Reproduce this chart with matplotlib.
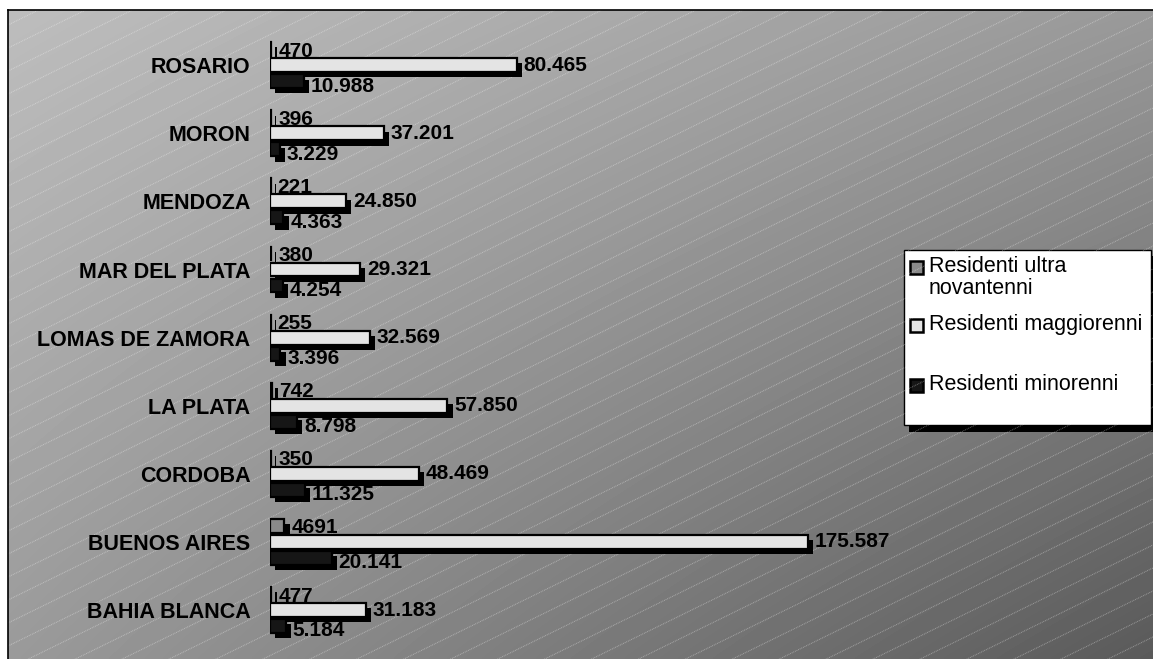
import matplotlib
matplotlib.use("Agg")
import matplotlib.pyplot as plt
import matplotlib.patheffects as pe
from matplotlib.patches import Rectangle
import numpy as np

plt.rcParams["font.family"] = ["Liberation Sans", "DejaVu Sans"]

# bottom to top, as drawn on the category axis
cities = [
    "BAHIA BLANCA", "BUENOS AIRES", "CORDOBA", "LA PLATA", "LOMAS DE ZAMORA",
    "MAR DEL PLATA", "MENDOZA", "MORON", "ROSARIO",
]
ultra_novantenni = [477, 4691, 350, 742, 255, 380, 221, 396, 470]
maggiorenni = [31183, 175587, 48469, 57850, 32569, 29321, 24850, 37201, 80465]
minorenni = [5184, 20141, 11325, 8798, 3396, 4254, 4363, 3229, 10988]

series_names = ["Residenti ultra\nnovantenni", "Residenti maggiorenni", "Residenti minorenni"]
series_colors = ["#8a8a8a", "#e4e4e4", "#161616"]

W, H = 1153, 659


def it_fmt(v):
    return f"{v:,}".replace(",", ".")


fig = plt.figure(figsize=(W / 100, H / 100), dpi=100)

# background layer in pixel coordinates
bg = fig.add_axes([0, 0, 1, 1], zorder=0)
bg.set_xlim(0, W)
bg.set_ylim(H, 0)
bg.axis("off")

x0, y0 = 8, 10
u = np.linspace(0, 1, 300)
v = np.linspace(0, 1, 200)
U, V = np.meshgrid(u, v)
shade = (189 - 36 * U - 35 * V - 28 * U * V) / 255.0
bg.imshow(shade, cmap="gray", vmin=0, vmax=1, extent=[x0, W, H, y0],
          aspect="auto", interpolation="bilinear")
frame = Rectangle((x0, y0), W - x0, H - y0, fill=False, lw=0)
bg.add_patch(frame)

# dotted diagonal streaks
slope = 0.49
for start in np.arange(y0 - 8, H + slope * W + 30, 23):
    xs = np.array([x0, W])
    ys = start - slope * (xs - x0)
    ln, = bg.plot(xs, ys, color="white", alpha=0.35, lw=0.8, ls=(0, (0.8, 0.8)))
    ln.set_clip_path(frame)

bg.plot([x0, W], [y0, y0], color="black", lw=1.2)
bg.plot([x0, x0], [y0, H], color="black", lw=1.2)

# legend box
bg.add_patch(Rectangle((909, 256), 247, 176, facecolor="black", lw=0))
bg.add_patch(Rectangle((904, 250), 247, 175, facecolor="white", edgecolor="black", lw=1))
leg_y = [268, 326, 386]
for name, color, ly in zip(series_names, series_colors, leg_y):
    bg.add_patch(Rectangle((910, ly - 7), 13, 13, facecolor=color, edgecolor="black", lw=1.8))
    bg.text(929, ly - 12, name, fontsize=15.5, va="top", ha="left", linespacing=1.05)

# bars
ax = fig.add_axes([270 / W, 0, (1150 - 270) / W, (H - y0) / H], zorder=2)
ax.patch.set_visible(False)
px_per_unit = (808 - 270) / 175587
ax.set_xlim(0, (1150 - 270) / px_per_unit)
ax.set_ylim(-49 / 68.1, (H - y0 - 49) / 68.1)

pos = np.arange(len(cities))
h = 0.205
off = 0.235
shadow = [pe.SimplePatchShadow(offset=(3.8, -3.8), shadow_rgbFace="black", alpha=1.0), pe.Normal()]

groups = [
    (ultra_novantenni, pos + off, series_colors[0], [str(x) for x in ultra_novantenni], -1.5),
    (maggiorenni, pos, series_colors[1], [it_fmt(x) for x in maggiorenni], 0),
    (minorenni, pos - off, series_colors[2], [it_fmt(x) for x in minorenni], -3.5),
]
for vals, ys, color, labels, dy in groups:
    bars = ax.barh(ys, vals, height=h, color=color, edgecolor="black", lw=1.6)
    for b in bars:
        b.set_path_effects(shadow)
    for val, yy, lab in zip(vals, ys, labels):
        ax.annotate(lab, (val, yy), xytext=(5, dy), textcoords="offset points",
                    va="center", ha="left", fontsize=15, fontweight="bold")

ax.set_yticks(pos)
ax.set_yticklabels(cities, fontsize=15.5, fontweight="bold")
ax.tick_params(axis="y", length=0, pad=14)
ax.set_xticks([])
for s in ax.spines.values():
    s.set_visible(False)

fig.savefig("out.png", dpi=100)
